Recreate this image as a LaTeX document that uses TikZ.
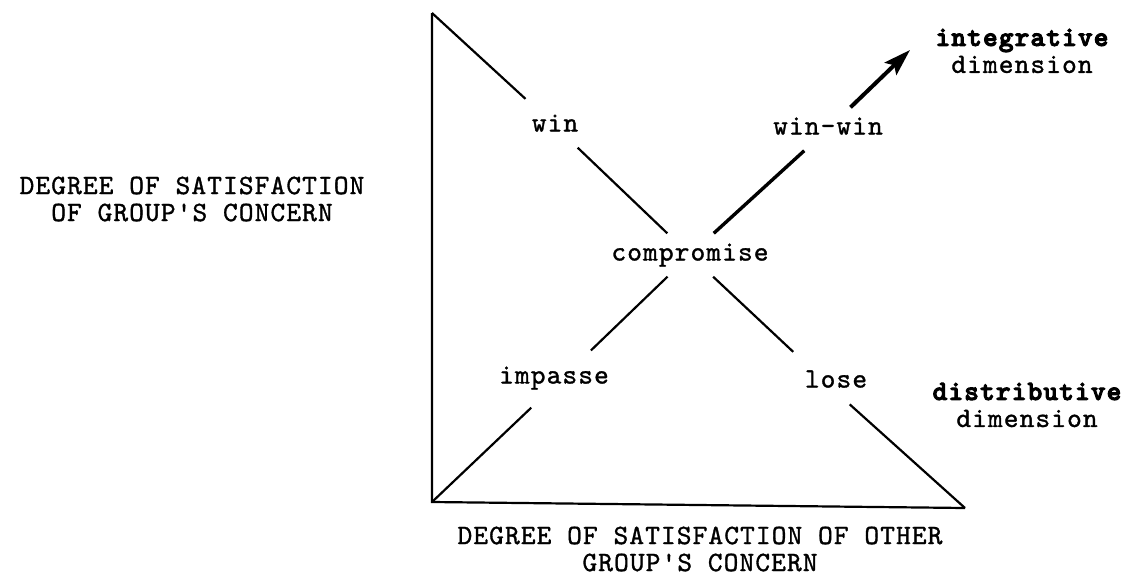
\documentclass[tikz,border=0pt]{standalone}
\usepackage{fontspec}
\usetikzlibrary{arrows.meta}
\newfontfamily\tw[Extension=.otf,LetterSpace=4,FakeBold=1.2]{lmmono10-regular}
\newfontfamily\twb[Extension=.otf,LetterSpace=4,FakeBold=3.5]{lmmonolt10-bold}
\newcommand\twsize{\tw\fontsize{28}{27}\selectfont}
\newcommand\bw[1]{{\twb #1}}
\tikzset{
  ln/.style={line width=2.2pt},
  heavy/.style={line width=3.4pt},
  arr/.style={line width=4pt, -{Stealth[length=27pt,width=17pt,inset=5pt]}},
  lbl/.style={font=\twsize, inner xsep=4pt, inner ysep=12pt, text height=15pt, text depth=4pt},
  txt/.style={font=\twsize, inner sep=0pt, align=center},
}
\begin{document}
\begin{tikzpicture}[x=1pt,y=-1pt]
\useasboundingbox (0,0) rectangle (1135,581);
% corners
\coordinate (TL) at (432,13);
\coordinate (BL) at (432,502);
\coordinate (BR) at (965,508);
\coordinate (tip) at (910,50);
% labels on the diagonals
\node[lbl] (win) at (555,126) {win};
\node[lbl] (winwin) at (828,129) {win-win};
\node[lbl] (comp) at (690,255) {compromise};
\node[lbl] (imp) at (554,386) {\raisebox{8pt}{impasse}};
\node[lbl] (lose) at (836,392) {\raisebox{10pt}{lose}};
% dimension and axis labels
\node[txt] (integ) at (1022,51) {\bw{integrative}\\dimension};
\node[txt] (distr) at (1027,405) {\bw{distributive}\\dimension};
\node[txt] (ylab) at (192,199) {DEGREE OF SATISFACTION\\OF GROUP'S CONCERN};
\node[txt] (xlab) at (700,549) {DEGREE OF SATISFACTION OF OTHER\\GROUP'S CONCERN};
% axes
\draw[ln] (TL) -- (BL) -- (BR);
% distributive diagonal
\draw[ln, shorten >=8pt] (TL) -- (win);
\draw[ln] (win) -- (comp);
\draw[ln, shorten >=27pt] (comp) -- (lose);
\draw[ln, shorten <=-14pt] (lose) -- (BR);
% integrative diagonal
\draw[ln] (BL) -- (imp);
\draw[ln, shorten <=20pt] (imp) -- (comp);
\draw[heavy] (comp) -- (winwin);
\draw[arr] (winwin) -- (tip);
\end{tikzpicture}
\end{document}
